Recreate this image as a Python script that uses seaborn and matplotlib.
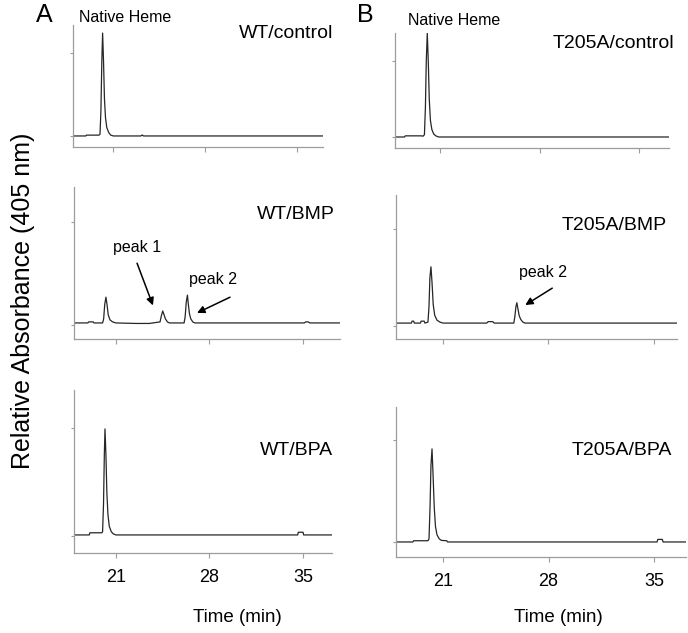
import matplotlib
matplotlib.use("Agg")
import matplotlib.pyplot as plt
import seaborn as sns
import pandas as pd

sns.set_theme(style="white")
plt.rcParams["font.family"] = ["Liberation Sans", "DejaVu Sans"]
plt.rcParams["text.color"] = "black"
plt.rcParams["xtick.labelcolor"] = "black"

# ---------------- data (time in min, relative absorbance) ----------------
wt_control_t = [17.9, 18.9, 18.95, 19.9, 19.98, 20.05, 20.12, 20.18, 20.25, 20.32, 20.4, 20.5,
                20.65, 20.8, 21.0, 23.1, 23.2, 23.3, 37.1]
wt_control_y = [0, 0, 0.01, 0.01, 0.02, 0.3, 0.9, 1.24, 0.9, 0.45, 0.22, 0.1,
                0.04, 0.01, 0, 0, 0.012, 0, 0]

wt_bmp_t = [17.9, 18.9, 18.95, 19.3, 19.35, 20.0, 20.08, 20.16, 20.25, 20.33, 20.42, 20.55,
            20.75, 21.0, 22.5, 23.5, 24.3, 24.4, 24.5, 24.6, 24.7, 24.85, 25.0, 26.1, 26.18,
            26.26, 26.35, 26.42, 26.5, 26.6, 26.75, 26.9, 35.1, 35.2, 35.4, 35.5, 37.8]
wt_bmp_y = [0.02, 0.02, 0.03, 0.03, 0.02, 0.02, 0.06, 0.2, 0.27, 0.2, 0.1, 0.05,
            0.03, 0.02, 0.015, 0.015, 0.03, 0.09, 0.136, 0.1, 0.06, 0.03, 0.02, 0.02, 0.08,
            0.22, 0.29, 0.2, 0.11, 0.06, 0.03, 0.02, 0.02, 0.03, 0.03, 0.02, 0.02]

wt_bpa_t = [17.9, 19.0, 19.05, 19.95, 20.0, 20.07, 20.13, 20.18, 20.25, 20.32, 20.4, 20.5,
            20.65, 20.8, 21.0, 34.6, 34.65, 35.0, 35.05, 37.2]
wt_bpa_y = [0.01, 0.01, 0.03, 0.03, 0.04, 0.3, 0.75, 0.99, 0.75, 0.4, 0.2, 0.09,
            0.04, 0.02, 0.01, 0.01, 0.035, 0.035, 0.01, 0.01]

t205a_control_t = [17.8, 18.5, 18.55, 19.7, 19.8, 19.9, 19.97, 20.03, 20.1, 20.17, 20.24, 20.32,
                   20.42, 20.55, 20.7, 20.9, 37.1]
t205a_control_y = [0, 0, 0.015, 0.015, 0.01, 0.03, 0.4, 1.0, 1.37, 1.0, 0.5, 0.22,
                   0.1, 0.04, 0.015, 0, 0]

t205a_bmp_t = [17.9, 18.9, 18.95, 19.05, 19.1, 19.5, 19.55, 19.75, 19.8, 20.0, 20.07, 20.13,
               20.2, 20.27, 20.35, 20.45, 20.6, 20.8, 21.0, 23.9, 24.0, 24.3, 24.4, 25.7,
               25.77, 25.84, 25.9, 25.97, 26.05, 26.15, 26.3, 26.45, 37.0]
t205a_bmp_y = [0.03, 0.03, 0.05, 0.05, 0.03, 0.03, 0.05, 0.05, 0.03, 0.04, 0.2, 0.5,
               0.61, 0.45, 0.22, 0.11, 0.06, 0.04, 0.03, 0.03, 0.045, 0.045, 0.03, 0.03,
               0.1, 0.2, 0.24, 0.18, 0.11, 0.07, 0.04, 0.03, 0.03]

t205a_bpa_t = [17.9, 19.0, 19.05, 20.0, 20.07, 20.14, 20.2, 20.27, 20.34, 20.42, 20.5, 20.6,
               20.75, 20.9, 21.25, 21.3, 35.2, 35.25, 35.55, 35.6, 37.2]
t205a_bpa_y = [0, 0, 0.012, 0.012, 0.03, 0.35, 0.75, 0.91, 0.65, 0.33, 0.15, 0.07,
               0.03, 0.015, 0.012, 0, 0, 0.025, 0.025, 0, 0]

sample_labels = ["WT/control", "WT/BMP", "WT/BPA",
                 "T205A/control", "T205A/BMP", "T205A/BPA"]
x_ticks = [21, 28, 35]
y_ticks = [0, 1]

# ---------------- layout ----------------
W, H = 688, 633
fig = plt.figure(figsize=(W / 100, H / 100), dpi=100)


def fx(px):
    return px / W


def fy(py):
    return 1 - py / H


def add_ax(l, t, r, b):
    return fig.add_axes([fx(l), fy(b), (r - l) / W, (b - t) / H])


SPINE = "#9c9c9c"
TRACE = "#262626"

panels = [
    # (t, y, rect px (l,t,r,b), xlim, ylim, label, label pos (right x, baseline y), bottom row)
    (wt_control_t, wt_control_y, (73, 25, 323, 147), (17.92, 37.0), (-0.133, 1.337),
     sample_labels[0], (333, 38), False),
    (wt_bmp_t, wt_bmp_y, (74, 187, 340, 339), (17.86, 37.77), (-0.136, 1.34),
     sample_labels[1], (335, 219), False),
    (wt_bpa_t, wt_bpa_y, (74, 390, 332, 553), (17.86, 37.17), (-0.157, 1.35),
     sample_labels[2], (333, 455), True),
    (t205a_control_t, t205a_control_y, (395, 33, 669, 148), (17.83, 37.1), (-0.145, 1.37),
     sample_labels[3], (674, 48), False),
    (t205a_bmp_t, t205a_bmp_y, (396, 195, 677, 339), (17.88, 36.53), (-0.134, 1.35),
     sample_labels[4], (667, 230), False),
    (t205a_bpa_t, t205a_bpa_y, (396, 407, 686, 557), (17.88, 37.12), (-0.147, 1.32),
     sample_labels[5], (672, 455), True),
]

axes = []
for t, y, rect, xl, yl, lab, lpos, bottom in panels:
    ax = add_ax(*rect)
    df = pd.DataFrame({"time": t, "abs": y})
    sns.lineplot(data=df, x="time", y="abs", ax=ax, color=TRACE, lw=0.9,
                 estimator=None, sort=False)
    ax.set_xlim(*xl)
    ax.set_ylim(*yl)
    ax.set_xlabel("")
    ax.set_ylabel("")
    ax.set_xticks(x_ticks)
    ax.set_yticks(y_ticks)
    ax.set_yticklabels([])
    if bottom:
        ax.set_xticklabels([str(v) for v in x_ticks])
    else:
        ax.set_xticklabels([])
    for s in ["top", "right"]:
        ax.spines[s].set_visible(False)
    for s in ["left", "bottom"]:
        ax.spines[s].set_color(SPINE)
        ax.spines[s].set_linewidth(0.9)
    ax.tick_params(axis="x", direction="out", length=3.6, width=0.8, color=SPINE,
                   labelsize=13, pad=8, bottom=True, labelcolor="black")
    ax.tick_params(axis="y", direction="out", length=2.5, width=0.8, color=SPINE, left=True)
    fig.text(fx(lpos[0]), fy(lpos[1]), lab, ha="right", va="baseline", fontsize=14,
             color="black")
    axes.append(ax)

# panel letters and headers
fig.text(fx(36), fy(22), "A", ha="left", va="baseline", fontsize=18, color="black")
fig.text(fx(357), fy(22), "B", ha="left", va="baseline", fontsize=18, color="black")
fig.text(fx(79), fy(22), "Native Heme", ha="left", va="baseline", fontsize=11.5, color="black")
fig.text(fx(408), fy(25), "Native Heme", ha="left", va="baseline", fontsize=11.5, color="black")

# axis titles
fig.text(fx(237), fy(618), "Time (min)", ha="center", va="center", fontsize=13.5, color="black")
fig.text(fx(558), fy(618), "Time (min)", ha="center", va="center", fontsize=13.5, color="black")
fig.text(fx(23), fy(301), "Relative Absorbance (405 nm)", ha="center", va="center",
         rotation=90, fontsize=18, color="black")

# peak annotations
arrow_kw = dict(arrowstyle="-|>", color="black", lw=1.1, mutation_scale=11,
                shrinkA=0, shrinkB=0)
ax_a, ax_b = axes[1], axes[4]
ax_a.text(22.58, 0.75, "peak 1", ha="center", va="center", fontsize=11.5, color="black")
ax_a.annotate("", xy=(23.77, 0.19), xytext=(22.58, 0.60), arrowprops=arrow_kw)
ax_a.text(28.26, 0.44, "peak 2", ha="center", va="center", fontsize=11.5, color="black")
ax_a.annotate("", xy=(27.07, 0.117), xytext=(29.54, 0.27), arrowprops=arrow_kw)
ax_b.text(27.65, 0.55, "peak 2", ha="center", va="center", fontsize=11.5, color="black")
ax_b.annotate("", xy=(26.46, 0.216), xytext=(28.25, 0.39), arrowprops=arrow_kw)

fig.savefig("out.png", dpi=100)
